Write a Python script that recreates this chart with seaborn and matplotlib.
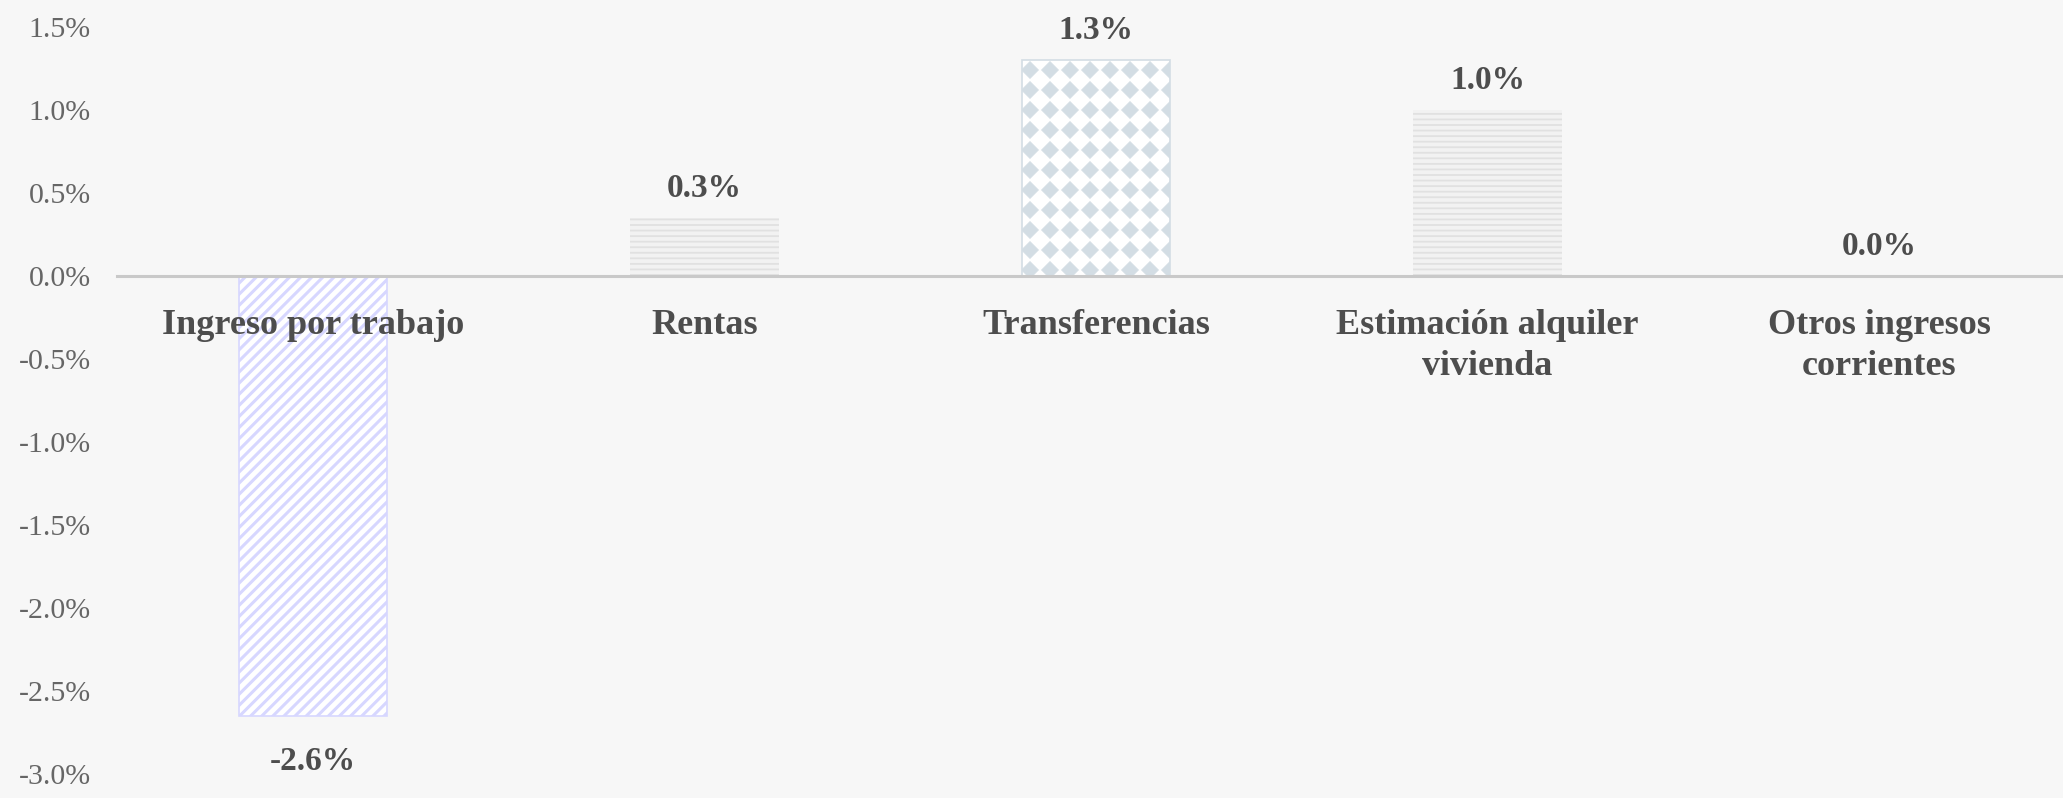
import numpy as np
import matplotlib
matplotlib.use('Agg')
import matplotlib.pyplot as plt
import matplotlib.hatch as mhatch
from matplotlib.path import Path
from matplotlib.ticker import MultipleLocator, FuncFormatter
import seaborn as sns

# datos
categorias = ['Ingreso por trabajo', 'Rentas', 'Transferencias',
              'Estimación alquiler\nvivienda', 'Otros ingresos\ncorrientes']
valores = [-2.65, 0.35, 1.3, 1.0, 0.0]


# trama de rombos (sustituye a la de estrellas '*')
class DiamondHatch(mhatch.HatchPatternBase):
    def __init__(self, hatch, density):
        self.num_rows = hatch.count('*') * 5
        self.num_vertices = self.num_rows ** 2 * 5

    def set_vertices_and_codes(self, vertices, codes):
        n = self.num_rows
        r = 0.42 / n
        rombo = np.array([[0, -r], [r, 0], [0, r], [-r, 0], [0, -r]])
        centros = (np.arange(n) + 0.5) / n
        k = 0
        for cx in centros:
            for cy in centros:
                vertices[k:k + 5] = rombo + [cx, cy]
                codes[k:k + 5] = [Path.MOVETO, Path.LINETO, Path.LINETO,
                                  Path.LINETO, Path.CLOSEPOLY]
                k += 5


mhatch._hatch_types = [DiamondHatch if t is mhatch.Stars else t
                       for t in mhatch._hatch_types]

estilos = [
    dict(face='white', edge='#d7d7ff', hatch='///', lw=1.2, hlw=2.2),
    dict(face='#f2f2f2', edge='#e1e1e1', hatch='---', lw=0, hlw=1.3),
    dict(face='white', edge='#d3dde4', hatch='*', lw=1.2, hlw=0.6),
    dict(face='#f2f2f2', edge='#e1e1e1', hatch='---', lw=0, hlw=1.3),
    dict(face='#f2f2f2', edge='#e1e1e1', hatch='---', lw=0, hlw=1.3),
]

sns.set_style('white')
plt.rcParams['font.family'] = ['Liberation Serif', 'DejaVu Serif']
plt.rcParams['hatch.linewidth'] = 1.3

fondo = '#f7f7f7'
fig = plt.figure(figsize=(20.63, 7.98), dpi=100, facecolor=fondo)
ax = fig.add_axes([0.0568, 0.0301, 0.949, 0.9361])
ax.set_facecolor(fondo)

sns.barplot(x=categorias, y=valores, ax=ax, width=0.38, color='white',
            errorbar=None, saturation=1)

for barra, est in zip(ax.patches, estilos):
    barra.set_facecolor(est['face'])
    barra.set_edgecolor(est['edge'])
    barra.set_linewidth(est['lw'])
    barra.set_hatch(est['hatch'])
    if hasattr(barra, 'set_hatch_linewidth'):
        barra.set_hatch_linewidth(est['hlw'])

# ejes
sns.despine(ax=ax, left=True, top=True, right=True, bottom=False)
ax.set_axisbelow(False)
ax.spines['bottom'].set_position(('data', 0))
ax.spines['bottom'].set_color('#c9c9c9')
ax.spines['bottom'].set_linewidth(2.2)
ax.set_xlim(-0.5, 4.5)
ax.set_ylim(-3, 1.5)
ax.yaxis.set_major_locator(MultipleLocator(0.5))
ax.yaxis.set_major_formatter(FuncFormatter(
    lambda v, p: f'{0.0 if abs(v) < 1e-9 else v:.1f}%'))
ax.tick_params(axis='y', length=0, pad=19, labelsize=21.5, labelcolor='#666666')
ax.tick_params(axis='x', length=0, pad=24, labelsize=26, labelcolor='#4d4d4d')
for lab in ax.get_xticklabels():
    lab.set_fontweight('bold')
    lab.set_linespacing(1.3)
ax.set_xlabel('')
ax.set_ylabel('')
ax.grid(False)

# etiquetas de valor
cont = ax.containers[0]
ax.bar_label(cont, labels=[f'{v:.1f}%' if v >= 0 else '' for v in valores],
             padding=10, fontsize=24, fontweight='bold', color='#4d4d4d')
ax.bar_label(cont, labels=[f'{v:.1f}%' if v < 0 else '' for v in valores],
             padding=22, fontsize=24, fontweight='bold', color='#4d4d4d')

fig.savefig('out.png', dpi=100, facecolor=fondo)
